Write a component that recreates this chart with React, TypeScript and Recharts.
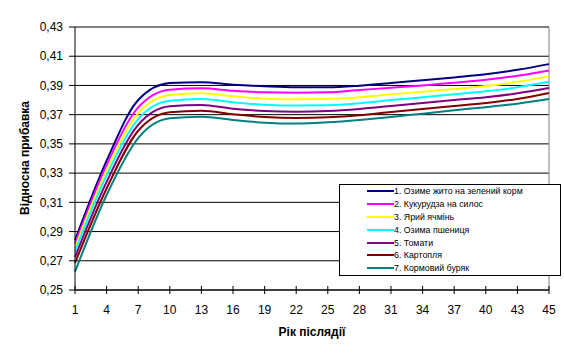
import React from 'react';
import { LineChart, Line, XAxis, YAxis, CartesianGrid, ReferenceLine, Legend } from 'recharts';

const years = [1, 4, 7, 10, 13, 16, 19, 22, 25, 28, 31, 34, 37, 40, 43, 45];

const ryeGreen = [0.284, 0.3385, 0.380, 0.3916, 0.3922, 0.3905, 0.3894, 0.3887, 0.3887, 0.3898, 0.3917, 0.3935, 0.3955, 0.3976, 0.4007, 0.4046];
const cornSilage = [0.2815, 0.3355, 0.375, 0.3871, 0.388, 0.3864, 0.3853, 0.385, 0.3853, 0.3869, 0.3884, 0.390, 0.3919, 0.3939, 0.3966, 0.4003];
const springBarley = [0.279, 0.332, 0.371, 0.3835, 0.3846, 0.3826, 0.3809, 0.3805, 0.3807, 0.3819, 0.3839, 0.3857, 0.3876, 0.3896, 0.3925, 0.3962];
const winterWheat = [0.2765, 0.3285, 0.367, 0.3796, 0.3807, 0.3785, 0.3768, 0.3762, 0.3764, 0.3778, 0.380, 0.3819, 0.3839, 0.386, 0.3887, 0.3925];
const tomatoes = [0.2725, 0.324, 0.363, 0.3757, 0.3767, 0.3741, 0.3725, 0.372, 0.3725, 0.3739, 0.3759, 0.378, 0.380, 0.3819, 0.3846, 0.3882];
const potatoes = [0.2685, 0.3195, 0.359, 0.3716, 0.3727, 0.3703, 0.3684, 0.3677, 0.3682, 0.3696, 0.3718, 0.3739, 0.3759, 0.378, 0.3807, 0.3848];
const fodderBeet = [0.2625, 0.315, 0.354, 0.3675, 0.3686, 0.3664, 0.3645, 0.3639, 0.3648, 0.3664, 0.3684, 0.3707, 0.373, 0.3751, 0.3775, 0.3807];

const seriesNames = [
  '1. Озиме жито на зелений корм',
  '2. Кукурудза на силос',
  '3. Ярий ячмінь',
  '4. Озима пшениця',
  '5. Томати',
  '6. Картопля',
  '7. Кормовий буряк',
];
const seriesValues = [ryeGreen, cornSilage, springBarley, winterWheat, tomatoes, potatoes, fodderBeet];
const seriesColors = ['#000080', '#FF00FF', '#FFFF00', '#00FFFF', '#800080', '#800000', '#008080'];

const yTicks = [0.25, 0.27, 0.29, 0.31, 0.33, 0.35, 0.37, 0.39, 0.41, 0.43];

const data = years.map((year, i) => {
  const row: Record<string, number> = { year };
  seriesValues.forEach((vals, s) => {
    row['s' + s] = vals[i];
  });
  return row;
});

const FONT = '"Liberation Sans", Arial, sans-serif';

const XTick = (props: any) => {
  const { x, y, payload } = props;
  return (
    <g>
      <line x1={x} x2={x} y1={y - 4} y2={y + 4} stroke="#000" strokeWidth={1} />
      <text x={x} y={y + 24} textAnchor="middle" fontSize={12} fontFamily={FONT} fill="#000">
        {payload.value}
      </text>
    </g>
  );
};

const LegendBox = () => (
  <div
    style={{
      border: '1px solid #000',
      background: '#fff',
      width: 220,
      height: 90,
      boxSizing: 'content-box',
      fontFamily: FONT,
      fontSize: 8.8,
      color: '#000',
      paddingTop: 0,
    }}
  >
    {seriesNames.map((name, i) => (
      <div key={name} style={{ display: 'flex', alignItems: 'center', height: 12.8, whiteSpace: 'nowrap' }}>
        <div style={{ width: 27, marginLeft: 27, height: 2, background: seriesColors[i] }} />
        <span>{name}</span>
      </div>
    ))}
  </div>
);

export default function App() {
  return (
    <div style={{ position: 'absolute', left: 0, top: 0, width: 564, height: 360, background: '#fff' }}>
      <LineChart
        width={564}
        height={360}
        data={data}
        margin={{ top: 27, right: 15, bottom: 30, left: 8 }}
      >
        <CartesianGrid vertical={false} stroke="#000" strokeWidth={1} horizontalValues={yTicks} />
        <XAxis
          dataKey="year"
          type="category"
          interval={0}
          height={40}
          stroke="#000"
          tickLine={false}
          tickSize={0}
          tickMargin={0}
          tick={<XTick />}
          label={{
            content: () => (
              <text x={312} y={336} textAnchor="middle" fontSize={12} fontWeight="bold" fontFamily={FONT} fill="#000">
                Рік післядії
              </text>
            ),
          }}
        />
        <YAxis
          type="number"
          domain={[0.25, 0.43]}
          ticks={yTicks}
          interval={0}
          width={67}
          stroke="#000"
          tickSize={6}
          tickMargin={6}
          tick={{ fill: '#000', fontSize: 12, fontFamily: FONT }}
          tickFormatter={(v: number) => v.toFixed(2).replace('.', ',')}
          label={{
            content: () => (
              <text
                x={25}
                y={158}
                transform="rotate(-90 25 158)"
                textAnchor="middle"
                dominantBaseline="central"
                fontSize={12}
                fontWeight="bold"
                fontFamily={FONT}
                fill="#000"
              >
                Відносна прибавка
              </text>
            ),
          }}
        />
        <ReferenceLine y={0.43} stroke="#808080" strokeWidth={1} />
        <ReferenceLine x={45} stroke="#808080" strokeWidth={1} />
        {seriesNames.map((name, s) => (
          <Line
            key={name}
            type="monotone"
            dataKey={'s' + s}
            name={name}
            stroke={seriesColors[s]}
            strokeWidth={2}
            dot={false}
            activeDot={false}
            isAnimationActive={false}
          />
        ))}
        <Legend
          content={<LegendBox />}
          layout="horizontal"
          verticalAlign="middle"
          align="center"
          wrapperStyle={{ left: 339, top: 184, width: 222, height: 92 }}
        />
      </LineChart>
    </div>
  );
}
